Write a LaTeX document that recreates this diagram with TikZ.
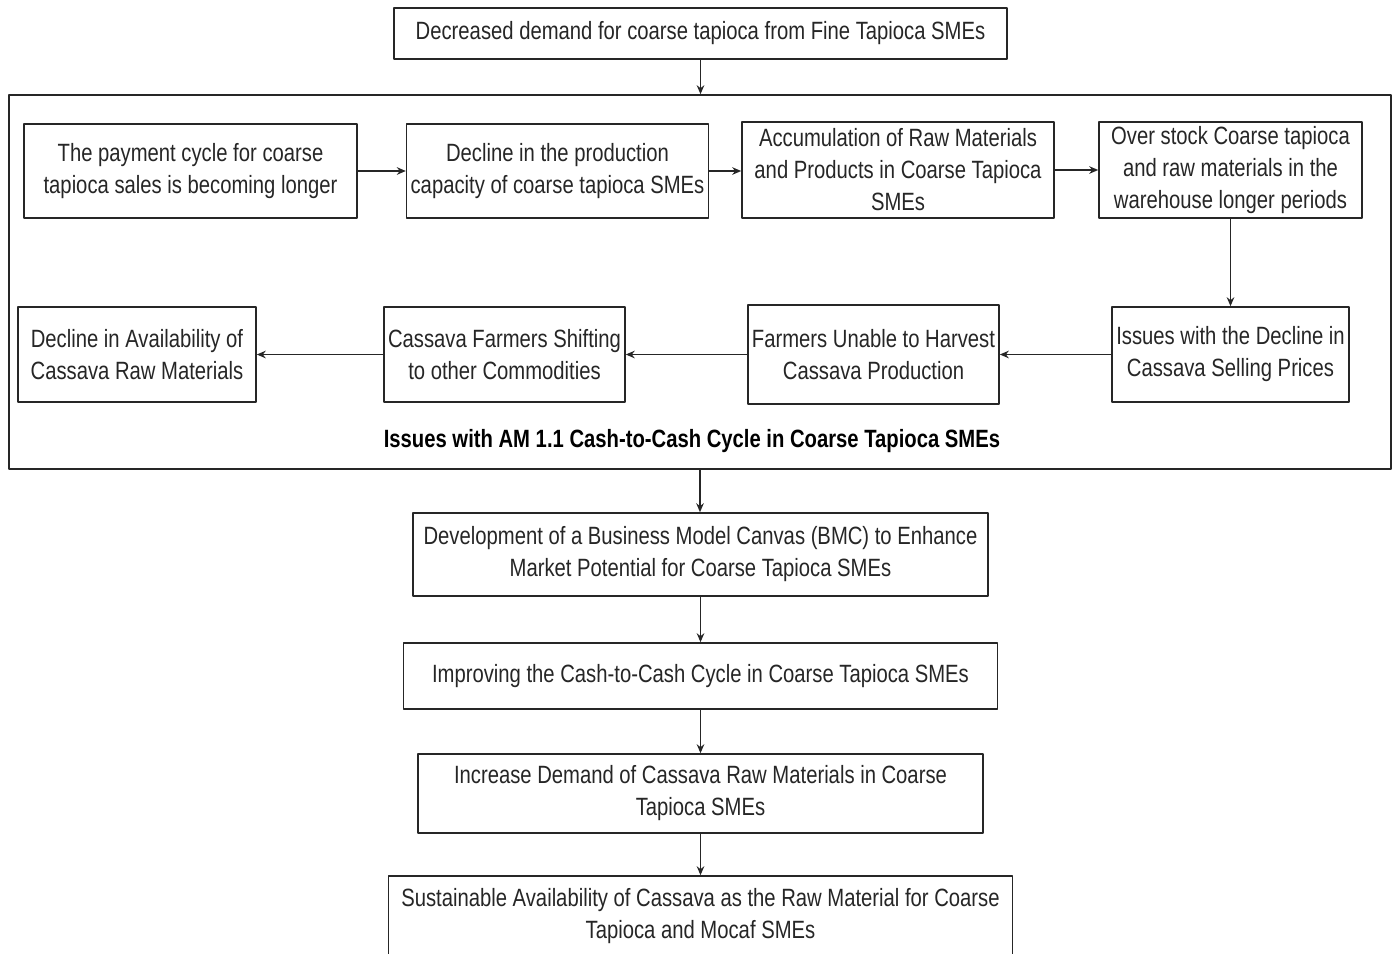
\documentclass[tikz,border=0pt]{standalone}
\usepackage{fontspec}
\setmainfont{Liberation Sans}[FakeStretch=0.81]
\usetikzlibrary{arrows.meta}
\definecolor{ink}{HTML}{262626}
\tikzset{
  every picture/.style={line join=round, >={Stealth[length=4.5pt,width=3.8pt]}},
  blk/.style={draw=ink, text=ink, line width=0.8pt, align=center, inner sep=2pt,
    font=\fontsize{12.5}{16}\selectfont},
  lnk/.style={->, draw=ink, line width=0.7pt},
}

\begin{document}
\begin{tikzpicture}[x=0.5pt,y=-0.5pt]
\useasboundingbox (0,0) rectangle (1394,954);
% top and frame
\node[blk,minimum width=306.5pt,minimum height=25.5pt] (top) at (700.5,33.5) {Decreased demand for coarse tapioca from Fine Tapioca SMEs};
\node[draw=ink,line width=0.8pt,minimum width=691pt,minimum height=187pt,inner sep=0pt] (frame) at (700,282) {};
\node[font=\fontsize{12.5}{16}\selectfont\bfseries] (cap) at (692,441) {Issues with AM 1.1 Cash-to-Cash Cycle in Coarse Tapioca SMEs};
% first row
\node[blk,minimum width=166.5pt,minimum height=47pt] (pay) at (190.5,171) {The payment cycle for coarse\\tapioca sales is becoming longer};
\node[blk,minimum width=150.5pt,minimum height=47pt] (prod) at (557.5,171) {Decline in the production\\capacity of coarse tapioca SMEs};
\node[blk,minimum width=156pt,minimum height=48pt] (accum) at (898,170) {Accumulation of Raw Materials\\and Products in Coarse Tapioca\\SMEs};
\node[blk,minimum width=131.5pt,minimum height=48pt] (stock) at (1230.5,170) {Over stock Coarse tapioca\\and raw materials in the\\warehouse longer periods};
% second row
\node[blk,minimum width=118.5pt,minimum height=47.5pt] (price) at (1230.5,354.5) {Issues with the Decline in\\Cassava Selling Prices};
\node[blk,minimum width=124.5pt,minimum height=49.5pt] (harv) at (873.5,354.5) {Farmers Unable to Harvest\\Cassava Production};
\node[blk,minimum width=119.5pt,minimum height=47.5pt] (shift) at (504.5,354.5) {Cassava Farmers Shifting\\to other Commodities};
\node[blk,minimum width=119pt,minimum height=47.5pt] (avail) at (137,354.5) {Decline in Availability of\\Cassava Raw Materials};
% lower chain
\node[blk,minimum width=287.5pt,minimum height=41.5pt] (bmc) at (700.5,554.5) {Development of a Business Model Canvas (BMC) to Enhance\\Market Potential for Coarse Tapioca SMEs};
\node[blk,minimum width=297pt,minimum height=33pt] (ccc) at (700.5,676) {Improving the Cash-to-Cash Cycle in Coarse Tapioca SMEs};
\node[blk,minimum width=282.5pt,minimum height=39.5pt] (dem) at (700.5,793.5) {Increase Demand of Cassava Raw Materials in Coarse\\Tapioca SMEs};
\node[blk,minimum width=312pt,minimum height=40pt] (sust) at (700.5,916) {Sustainable Availability of Cassava as the Raw Material for Coarse\\Tapioca and Mocaf SMEs};
% connectors
\draw[lnk] (top.south) -- (top.south |- frame.north);
\draw[lnk] (pay.east) -- (prod.west);
\draw[lnk] (prod.east) -- (prod.east -| accum.west);
\draw[lnk] (accum.east) -- (stock.west);
\draw[lnk] (stock.south) -- (price.north);
\draw[lnk] (price.west) -- (harv.east);
\draw[lnk] (harv.west) -- (shift.east);
\draw[lnk] (shift.west) -- (avail.east);
\draw[lnk] (frame.south) -- (frame.south |- bmc.north);
\draw[lnk] (bmc.south) -- (ccc.north);
\draw[lnk] (ccc.south) -- (dem.north);
\draw[lnk] (dem.south) -- (sust.north);
\end{tikzpicture}
\end{document}
